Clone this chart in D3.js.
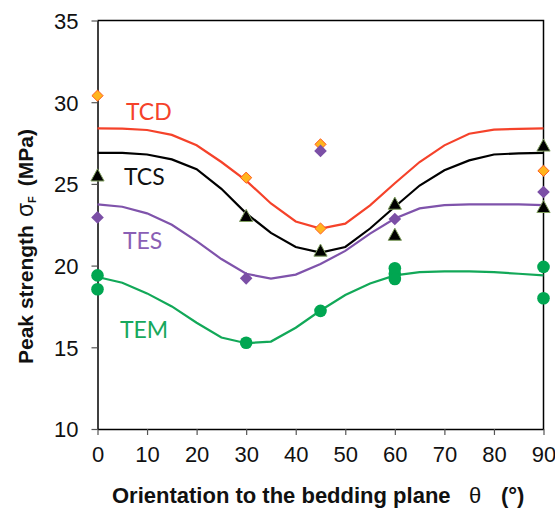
<!DOCTYPE html>
<html>
<head>
<meta charset="utf-8">
<script src="https://cdn.jsdelivr.net/npm/d3@7"></script>
<style>
  body { margin: 0; background: #fff; }
  svg { display: block; }
</style>
</head>
<body>
<svg width="555" height="510"></svg>
<script>
// model curves, sampled every 5 degrees
const curveAngles = [0, 5, 10, 15, 20, 25, 30, 35, 40, 45, 50, 55, 60, 65, 70, 75, 80, 85, 90];
const tcdCurve = [28.4, 28.38, 28.3, 28.0, 27.36, 26.34, 25.2, 23.8, 22.7, 22.27, 22.57, 23.69, 25.04, 26.34, 27.36, 28.07, 28.32, 28.37, 28.4];
const tcsCurve = [26.9, 26.9, 26.8, 26.5, 25.9, 24.7, 23.2, 22.0, 21.14, 20.8, 21.14, 22.27, 23.6, 24.9, 25.83, 26.44, 26.8, 26.87, 26.9];
const tesCurve = [23.75, 23.6, 23.2, 22.5, 21.5, 20.4, 19.5, 19.2, 19.45, 20.1, 20.9, 21.96, 22.88, 23.5, 23.7, 23.75, 23.75, 23.75, 23.7];
const temCurve = [19.3, 18.95, 18.3, 17.5, 16.5, 15.6, 15.25, 15.35, 16.2, 17.25, 18.2, 18.9, 19.4, 19.6, 19.65, 19.65, 19.6, 19.5, 19.4];

// measured points
const tcdAngles = [0, 30, 45, 45, 90];
const tcdValues = [30.4, 25.38, 27.42, 22.27, 25.8];
const tesAngles = [0, 30, 45, 60, 90];
const tesValues = [22.95, 19.22, 27.02, 22.85, 24.5];
const tcsAngles = [0, 30, 45, 60, 60, 90, 90];
const tcsValues = [25.55, 23.07, 20.95, 23.82, 21.92, 27.38, 23.62];
const temAngles = [0, 0, 30, 45, 60, 60, 60, 90, 90];
const temValues = [19.4, 18.55, 15.28, 17.23, 19.84, 19.5, 19.18, 19.92, 18.0];

const xTicks = [0, 10, 20, 30, 40, 50, 60, 70, 80, 90];
const yTicks = [10, 15, 20, 25, 30, 35];

const margin = { left: 97.5, right: 11.5, top: 20.5, bottom: 81 };
const svg = d3.select('svg');
const width = 555 - margin.left - margin.right;
const height = 510 - margin.top - margin.bottom;

const x = d3.scaleLinear().domain([0, 90]).range([0, width]);
const y = d3.scaleLinear().domain([10, 35]).range([height, 0]);

const g = svg.append('g').attr('transform', `translate(${margin.left},${margin.top})`);

// frame (top + right)
g.append('path')
  .attr('d', `M0,0H${width}V${height}`)
  .attr('fill', 'none')
  .attr('stroke', '#000')
  .attr('stroke-width', 1.5);

// axes
const xAxis = g.append('g')
  .attr('transform', `translate(0,${height})`)
  .call(d3.axisBottom(x).tickValues(xTicks).tickSize(6).tickPadding(11).tickSizeOuter(0));
const yAxis = g.append('g')
  .call(d3.axisLeft(y).tickValues(yTicks).tickSize(6).tickPadding(13).tickSizeOuter(0));

[xAxis, yAxis].forEach(a => {
  a.select('.domain').attr('stroke', '#000').attr('stroke-width', 1.5);
  a.selectAll('.tick line').attr('stroke', '#555').attr('stroke-width', 1.2);
  a.selectAll('.tick text')
    .attr('font-family', 'Liberation Sans, Arial, sans-serif')
    .attr('font-size', 22)
    .attr('fill', '#111');
});
yAxis.selectAll('.tick text').attr('dy', '0.36em');
xAxis.selectAll('.tick text').attr('dy', '0.72em');

// curves
const series = [
  { name: 'TCD', curve: tcdCurve, color: '#f5422a' },
  { name: 'TCS', curve: tcsCurve, color: '#000000' },
  { name: 'TES', curve: tesCurve, color: '#7f53ab' },
  { name: 'TEM', curve: temCurve, color: '#12a858' }
];

const line = d3.line()
  .x((d, i) => x(curveAngles[i]))
  .y(d => y(d));

g.selectAll('path.curve')
  .data(series)
  .enter()
  .append('path')
  .attr('class', 'curve')
  .attr('d', d => line(d.curve))
  .attr('fill', 'none')
  .attr('stroke', d => d.color)
  .attr('stroke-width', 2.2);

// labels
const labels = [
  { text: 'TCD', px: 126, py: 120, color: '#f5422a' },
  { text: 'TCS', px: 124, py: 185, color: '#111' },
  { text: 'TES', px: 123, py: 249, color: '#8a5fb5' },
  { text: 'TEM', px: 120, py: 338, color: '#16a85c' }
];
svg.selectAll('text.lbl')
  .data(labels)
  .enter()
  .append('text')
  .attr('class', 'lbl')
  .attr('x', d => d.px)
  .attr('y', d => d.py)
  .attr('fill', d => d.color)
  .attr('font-family', 'Lato, Carlito, sans-serif')
  .attr('font-size', 23)
  .text(d => d.text);

// markers
const diamond = {
  draw(ctx, r) {
    ctx.moveTo(0, -r); ctx.lineTo(r, 0); ctx.lineTo(0, r); ctx.lineTo(-r, 0); ctx.closePath();
  }
};
const triangle = {
  draw(ctx, r) {
    ctx.moveTo(0, -r * 0.92); ctx.lineTo(r, r * 0.92); ctx.lineTo(-r, r * 0.92); ctx.closePath();
  }
};

function points(angles, values) {
  return angles.map((a, i) => ({ a, v: values[i] }));
}

function drawMarkers(data, type, r, fill, stroke, sw) {
  g.append('g')
    .selectAll('path')
    .data(data)
    .enter()
    .append('path')
    .attr('transform', d => `translate(${x(d.a)},${y(d.v)})`)
    .attr('d', d3.symbol().type(type).size(r))
    .attr('fill', fill)
    .attr('stroke', stroke)
    .attr('stroke-width', sw);
}

drawMarkers(points(tcdAngles, tcdValues), diamond, 5.6, '#ffb51e', '#ff5a1f', 1);
drawMarkers(points(tesAngles, tesValues), diamond, 6.3, '#7b4fa6', 'none', 0);
drawMarkers(points(tcsAngles, tcsValues), triangle, 6.6, '#000', '#7f9e5e', 1);

g.append('g')
  .selectAll('circle')
  .data(points(temAngles, temValues))
  .enter()
  .append('circle')
  .attr('cx', d => x(d.a))
  .attr('cy', d => y(d.v))
  .attr('r', 6.3)
  .attr('fill', '#00a651');

// axis titles
const xTitle = svg.append('text')
  .attr('y', 503)
  .attr('font-family', 'Liberation Sans, Arial, sans-serif')
  .attr('font-weight', 'bold')
  .attr('font-size', 22)
  .attr('fill', '#111');
xTitle.append('tspan').attr('x', 112).text('Orientation to the bedding plane');
xTitle.append('tspan').attr('x', 469).attr('font-weight', 'normal').text('θ');
xTitle.append('tspan').attr('x', 501).text('(°)');

const yTitle = svg.append('text')
  .attr('transform', 'translate(33,364) rotate(-90)')
  .attr('font-family', 'Liberation Sans, Arial, sans-serif')
  .attr('font-weight', 'bold')
  .attr('font-size', 21)
  .attr('fill', '#111');
yTitle.append('tspan').text('Peak strength');
yTitle.append('tspan').attr('dx', 8).attr('font-weight', 'normal').attr('font-size', 23).text('σ');
yTitle.append('tspan').attr('font-size', 11).attr('dy', 3).text('F');
yTitle.append('tspan').attr('dy', -3).attr('dx', 10).text('(MPa)');
</script>
</body>
</html>
